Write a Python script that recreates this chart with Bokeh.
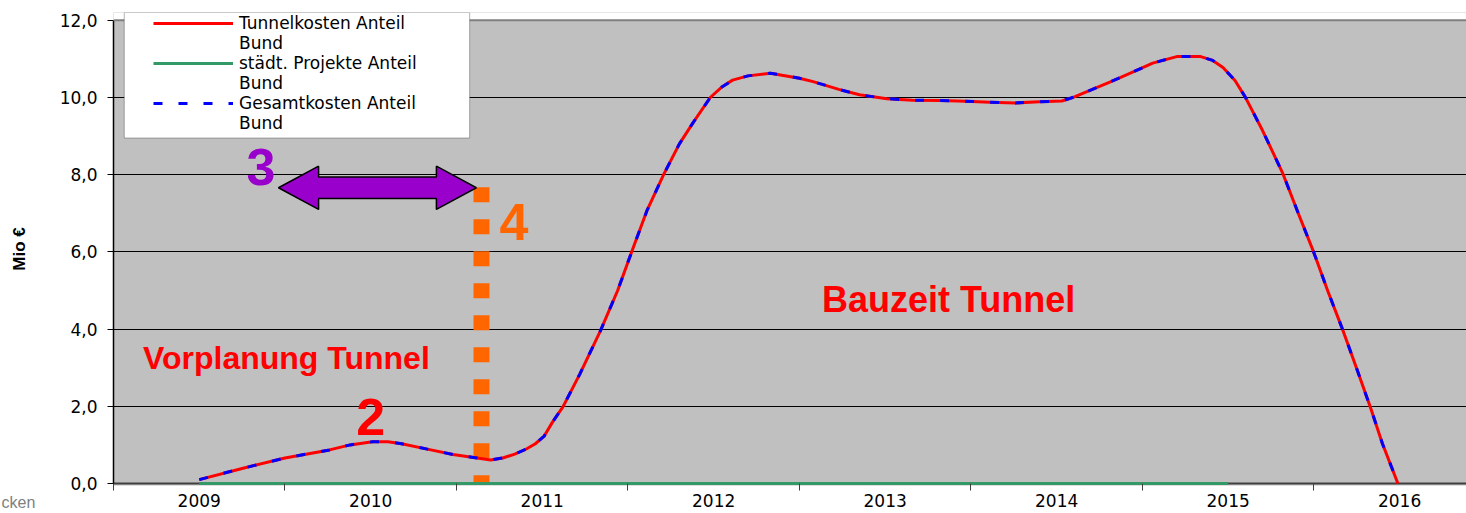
from bokeh.plotting import figure
from bokeh.models import (FixedTicker, Label, Legend, LegendItem, BoxAnnotation,
                          Span, Range1d, Title)
from bokeh.embed import file_html
from bokeh.resources import INLINE

# ---------------- data ----------------
years = [2009, 2010, 2011, 2012, 2013, 2014, 2015, 2016]
year_labels = ["2009", "2010", "2011", "2012", "2013", "2014", "2015", "2016"]
y_ticks = [0, 2, 4, 6, 8, 10, 12]
y_tick_labels = ["0,0", "2,0", "4,0", "6,0", "8,0", "10,0", "12,0"]

# Tunnelkosten Anteil Bund (Mio €), position in years
t_tunnel = [2009.00, 2009.25, 2009.50, 2009.76, 2009.88, 2010.01, 2010.10, 2010.18, 2010.33,
            2010.48, 2010.62, 2010.70, 2010.77, 2010.84, 2010.91, 2010.96, 2011.01, 2011.06,
            2011.12, 2011.22, 2011.34, 2011.44, 2011.53, 2011.61, 2011.71, 2011.80, 2011.88,
            2011.98, 2012.05, 2012.11, 2012.20, 2012.33, 2012.50, 2012.58, 2012.73, 2012.85,
            2013.01, 2013.16, 2013.32, 2013.47, 2013.61, 2013.76, 2013.90, 2014.03,
            2014.10, 2014.17, 2014.31, 2014.43, 2014.56, 2014.70, 2014.84, 2014.91, 2014.97,
            2015.04, 2015.10, 2015.20, 2015.32, 2015.41, 2015.50, 2015.58, 2015.67, 2015.75,
            2015.83, 2015.90, 2015.99]
tunnel = [0.10, 0.39, 0.66, 0.87, 1.00, 1.08, 1.08, 1.03, 0.89,
          0.75, 0.66, 0.61, 0.66, 0.76, 0.90, 1.03, 1.22, 1.59,
          1.98, 2.84, 3.96, 5.00, 6.10, 7.06, 8.02, 8.80, 9.35,
          10.00, 10.28, 10.45, 10.56, 10.63, 10.50, 10.41, 10.21, 10.07,
          9.97, 9.93, 9.92, 9.90, 9.88, 9.86, 9.89, 9.91,
          10.01, 10.14, 10.40, 10.63, 10.89, 11.06, 11.06, 10.96, 10.78,
          10.44, 10.01, 9.15, 8.02, 6.99, 5.98, 5.00, 3.96, 2.97,
          1.97, 1.03, 0.00]

# städt. Projekte Anteil Bund
t_staedt = [2009, 2010, 2011, 2012, 2013, 2014, 2015]
staedt = [0.0, 0.0, 0.0, 0.0, 0.0, 0.0, 0.0]

# Gesamtkosten Anteil Bund (= Tunnel, städt. Anteil is zero)
t_gesamt = list(t_tunnel)
gesamt = list(tunnel)

# ---------------- annotation anchors (data units) ----------------
MARK4_X = 2010.646
MARK4_TOP = 7.676
ARR_TIP_L, ARR_BASE_L, ARR_BASE_R, ARR_TIP_R = 2009.462, 2009.696, 2010.383, 2010.616
ARR_Y, ARR_HEAD, ARR_SHAFT = 7.661, 0.561, 0.280

p = figure(frame_width=1353, frame_height=473,
           x_range=Range1d(2008.5, 2016.39), y_range=Range1d(-0.052, 12.202),
           output_backend="svg", toolbar_location=None,
           min_border_left=113, min_border_right=0, min_border_top=12, min_border_bottom=28,
           background_fill_color="#C0C0C0", border_fill_color="white",
           outline_line_color=None)

TICK_FONT = "DejaVu Sans"
TICK_SIZE = "17px"

# axes
p.xaxis.ticker = FixedTicker(ticks=years, minor_ticks=[2008.5 + i for i in range(9)])
p.xaxis.major_label_overrides = {y: l for y, l in zip(years, year_labels)}
p.xaxis.major_tick_line_color = None
p.xaxis.major_tick_out = 5
p.xaxis.major_tick_in = 0
p.xaxis.minor_tick_out = 5
p.xaxis.minor_tick_in = 2
p.xaxis.minor_tick_line_color = "#404040"
p.xaxis.axis_line_color = None
p.xaxis.major_label_standoff = 3
p.xaxis.major_label_text_font = TICK_FONT
p.xaxis.major_label_text_font_size = TICK_SIZE
p.xaxis.major_label_text_color = "black"

p.yaxis.ticker = FixedTicker(ticks=y_ticks, minor_ticks=[])
p.yaxis.major_label_overrides = {y: l for y, l in zip(y_ticks, y_tick_labels)}
p.yaxis.bounds = (0, 12)
p.yaxis.major_tick_out = 6
p.yaxis.major_tick_in = 0
p.yaxis.major_tick_line_color = "black"
p.yaxis.axis_line_color = "black"
p.yaxis.axis_line_width = 1.5
p.yaxis.major_label_standoff = 10
p.yaxis.major_label_text_font = TICK_FONT
p.yaxis.major_label_text_font_size = TICK_SIZE
p.yaxis.major_label_text_color = "black"
p.yaxis.axis_label = "Mio €"
p.yaxis.axis_label_text_font = "Liberation Sans"
p.yaxis.axis_label_text_font_style = "bold"
p.yaxis.axis_label_text_font_size = "17px"
p.yaxis.axis_label_text_color = "black"
p.yaxis.axis_label_standoff = 28

p.xgrid.visible = False
p.ygrid.ticker = FixedTicker(ticks=[2, 4, 6, 8, 10])
p.ygrid.grid_line_color = "black"
p.ygrid.grid_line_width = 1

# x axis base line (below the series), top white strip + grey border
p.add_layout(Span(location=0, dimension="width", line_color="#404040", line_width=2,
                  level="underlay"))
p.add_layout(BoxAnnotation(left=2008.5, right=2016.39, bottom=12, top=12.202,
                           fill_color="white", fill_alpha=1, line_alpha=0))
p.add_layout(Span(location=12, dimension="width", line_color="#808080", line_width=2))

# orange dotted marker line "4"
p.line(x=[MARK4_X, MARK4_X], y=[MARK4_TOP, 0], line_color="#FF6600", line_width=16,
       line_dash="15 17", line_cap="butt")

# purple double arrow "3"
ax = [ARR_TIP_L, ARR_BASE_L, ARR_BASE_L, ARR_BASE_R, ARR_BASE_R, ARR_TIP_R,
      ARR_BASE_R, ARR_BASE_R, ARR_BASE_L, ARR_BASE_L]
ay = [ARR_Y, ARR_Y + ARR_HEAD, ARR_Y + ARR_SHAFT, ARR_Y + ARR_SHAFT, ARR_Y + ARR_HEAD,
      ARR_Y, ARR_Y - ARR_HEAD, ARR_Y - ARR_SHAFT, ARR_Y - ARR_SHAFT, ARR_Y - ARR_HEAD]
p.patch(ax, ay, fill_color="#9900CC", line_color="black", line_width=1.5)

# series
r_green = p.line(t_staedt, staedt, line_color="#339966", line_width=3)
r_red = p.line(t_tunnel, tunnel, line_color="#FF0000", line_width=3, line_join="round")
r_blue = p.line(t_gesamt, gesamt, line_color="#0000FF", line_width=3, line_dash="9 16")

# text annotations
def lab(x, y, text, size, color, align="left"):
    p.add_layout(Label(x=x, y=y, text=text, text_font="Liberation Sans",
                       text_font_style="bold", text_font_size=size, text_color=color,
                       text_align=align, text_baseline="alphabetic"))

lab(2008.672, 3.24, "Vorplanung Tunnel", "32px", "#FF0000")
lab(2012.631, 4.76, "Bauzeit Tunnel", "36px", "#FF0000")
lab(2010.0, 1.71, "2", "52px", "#FF0000", "center")
lab(2009.36, 8.21, "3", "52px", "#9900CC", "center")
lab(2010.835, 6.77, "4", "52px", "#FF6600", "center")

# footer remnant bottom-left (a title in the lower border, pulled up into the axis band)
footer = Title(text="cken", align="left", offset=-112, standoff=-31, vertical_align="top",
               text_font="Liberation Sans", text_font_size="16px", text_font_style="normal",
               text_color="#808080")
p.add_layout(footer, "below")

# legend box
p.add_layout(BoxAnnotation(left=2008.5627, right=2010.577, bottom=8.951, top=12.202,
                           fill_color="white", fill_alpha=1, line_color="black", line_width=1))

d1 = p.line([], [], line_alpha=0)
d2 = p.line([], [], line_alpha=0)
d3 = p.line([], [], line_alpha=0)
legend = Legend(items=[
    LegendItem(label="Tunnelkosten Anteil", renderers=[r_red]),
    LegendItem(label="Bund", renderers=[d1]),
    LegendItem(label="städt. Projekte Anteil", renderers=[r_green]),
    LegendItem(label="Bund", renderers=[d2]),
    LegendItem(label="Gesamtkosten Anteil", renderers=[r_blue]),
    LegendItem(label="Bund", renderers=[d3]),
], location=(40, 352), orientation="vertical")
legend.padding = 0
legend.margin = 0
legend.spacing = 0
legend.glyph_width = 80
legend.glyph_height = 20
legend.label_height = 20
legend.label_standoff = 6
legend.label_text_font = "DejaVu Sans"
legend.label_text_font_size = "17px"
legend.label_text_color = "black"
legend.background_fill_alpha = 0
legend.border_line_alpha = 0
p.add_layout(legend)

open("out.html", "w").write(file_html(p, INLINE))
